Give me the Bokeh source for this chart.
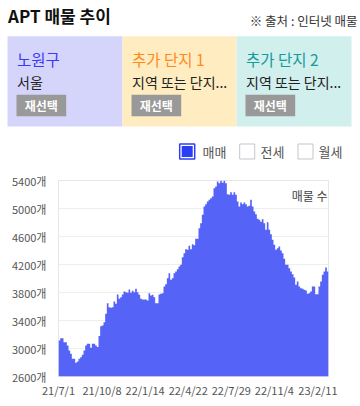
import pandas as pd
from bokeh.plotting import figure
from bokeh.models import Range1d, FixedTicker, PrintfTickFormatter, Label, ColumnDataSource
from bokeh.core.properties import value
from bokeh.embed import file_html
from bokeh.resources import INLINE

FONT = "Noto Sans CJK KR"

# ---------------- data ----------------
title = "APT 매물 추이"
source_note = "※ 출처 : 인터넷 매물"
panel_titles = ["노원구", "추가 단지 1", "추가 단지 2"]
panel_subtitles = ["서울", "지역 또는 단지...", "지역 또는 단지..."]
panel_button = "재선택"
legend_items = ["매매", "전세", "월세"]
legend_checked = [True, False, False]

period_start = "2021-07-01"
period_end = "2023-03-07"
listings = [
    3114, 3148, 3148, 3090, 3090, 3043, 2971, 2924, 2852, 2852,
    2795, 2814, 2852, 2876, 2910, 2971, 3043, 3067, 3067, 3010,
    3067, 3067, 3043, 3020, 3180,
    3318, 3330, 3376, 3495, 3648, 3590, 3581, 3590, 3671, 3638,
    3771, 3710, 3733, 3771, 3814, 3805, 3795, 3843, 3795, 3824,
    3805, 3852, 3805, 3767, 3710, 3700, 3700, 3700, 3686, 3790,
    3757, 3767, 3733, 3648, 3648, 3771, 3781, 3790, 3886, 3919,
    4005, 4076, 3981, 4005, 4076, 4100, 4133, 4171, 4195, 4305,
    4362, 4419, 4410, 4467, 4419, 4490, 4476, 4567, 4567, 4719,
    4790, 4910, 5029, 5062, 5100, 5124, 5148, 5171, 5290, 5314,
    5386, 5362, 5395, 5367, 5395, 5362, 5205, 5195, 5233, 5195,
    5233, 5195, 5100, 5029, 5086, 5062, 5086, 5062, 5029, 5038,
    5124, 5029, 4957, 4919, 4852, 4838, 4810, 4848, 4790, 4695,
    4805, 4695, 4633, 4552, 4481, 4410, 4433, 4457, 4400, 4362,
    4281, 4195, 4195, 4148, 4100, 4062, 4014, 3910, 3957, 3886,
    3862, 3852, 3838, 3829, 3781, 3790, 3814, 3886, 3886, 3776,
    3776, 3886, 3957, 4052, 4100, 4157, 4100,
]
tick_dates = ["2021-07-01", "2021-10-08", "2022-01-14", "2022-04-22",
              "2022-07-29", "2022-11-04", "2023-02-11"]
tick_labels = ["21/7/1", "21/10/8", "22/1/14", "22/4/22", "22/7/29", "22/11/4", "23/2/11"]
y_ticks = [2600, 3000, 3400, 3800, 4200, 4600, 5000, 5400]
y_unit = "개"
series_label = "매물 수"

# ---------------- header ----------------
W = 360
H1 = 168


def Y(y):
    return H1 - y


hdr = figure(width=W, height=H1, x_range=Range1d(0, W), y_range=Range1d(0, H1),
             output_backend="svg", toolbar_location=None, min_border=0)
hdr.axis.visible = False
hdr.grid.visible = False
hdr.outline_line_color = None
hdr.background_fill_color = "white"

hdr.text(x=[7.5], y=[Y(15)], text=[title], text_font=value(FONT), text_font_size="17px",
         text_font_style="bold", text_color="#111111", text_baseline="middle", text_align="left")
hdr.text(x=[357], y=[Y(19.5)], text=[source_note], text_font=value(FONT), text_font_size="12.5px",
         text_color="#333333", text_baseline="middle", text_align="right")

panel_left = [7, 122, 236]
panel_right = [122, 236, 351]
panel_bg = ["#d5d5fb", "#ffecc1", "#d1efed"]
panel_fg = ["#3b3bf5", "#ff8a1c", "#139c9a"]
hdr.quad(left=panel_left, right=panel_right, top=[Y(35.7)] * 3, bottom=[Y(126)] * 3,
         fill_color=panel_bg, line_color=None)
tx = [l + 9.5 for l in panel_left]
hdr.text(x=tx, y=[Y(58.5)] * 3, text=panel_titles, text_font=value(FONT), text_font_size="15.5px",
         text_color=panel_fg, text_baseline="middle", text_align="left")
hdr.text(x=tx, y=[Y(81)] * 3, text=panel_subtitles, text_font=value(FONT), text_font_size="14px",
         text_color="#222222", text_baseline="middle", text_align="left")
bl = [l + 9 for l in panel_left]
hdr.quad(left=bl, right=[b + 49.7 for b in bl], top=[Y(94.3)] * 3, bottom=[Y(115.7)] * 3,
         fill_color="#999999", line_color=None)
hdr.text(x=[b + 24.85 for b in bl], y=[Y(105)] * 3, text=[panel_button] * 3, text_font=value(FONT),
         text_font_size="12px", text_font_style="bold", text_color="white",
         text_baseline="middle", text_align="center")

cb_x = [186.7, 246.7, 305.0]
lab_x = [202, 260, 318]
cb_y = Y(151)
for cx, lx, lab, chk in zip(cb_x, lab_x, legend_items, legend_checked):
    if chk:
        hdr.rect(x=[cx], y=[cb_y], width=15, height=15, fill_color="white",
                 line_color="#2a3ff5", line_width=1.5)
        hdr.rect(x=[cx], y=[cb_y], width=11, height=11, fill_color="#2a3ff5", line_color=None)
    else:
        hdr.rect(x=[cx], y=[cb_y], width=15, height=15, fill_color="white",
                 line_color="#c5c5cc", line_width=1)
    hdr.text(x=[lx], y=[cb_y], text=[lab], text_font=value(FONT), text_font_size="13px",
             text_color="#555555", text_baseline="middle", text_align="left")

# ---------------- chart ----------------
start = pd.Timestamp(period_start)
end = pd.Timestamp(period_end)
edges = pd.date_range(start, end, periods=len(listings) + 1)
src = ColumnDataSource(dict(x=edges, y1=[y_ticks[0]] * len(edges), y2=listings + [listings[-1]]))

p = figure(width=W, height=406 - H1, x_axis_type="datetime",
           x_range=Range1d(start, end), y_range=Range1d(y_ticks[0], y_ticks[-1]),
           output_backend="svg", toolbar_location=None,
           min_border_left=58, min_border_right=32, min_border_top=12, min_border_bottom=30)
p.varea_step(x="x", y1="y1", y2="y2", step_mode="after", source=src, fill_color="#5564f6")

tick_ms = [pd.Timestamp(d).value // 10**6 for d in tick_dates]
p.xaxis.ticker = FixedTicker(ticks=tick_ms)
p.xaxis.major_label_overrides = {t: l for t, l in zip(tick_ms, tick_labels)}
p.yaxis.ticker = FixedTicker(ticks=y_ticks)
p.yaxis.formatter = PrintfTickFormatter(format="%d" + y_unit)

for ax in (p.xaxis, p.yaxis):
    ax.axis_line_color = None
    ax.major_tick_line_color = None
    ax.minor_tick_line_color = None
    ax.major_tick_out = 0
    ax.major_tick_in = 0
    ax.major_label_text_font = FONT
    ax.major_label_text_font_size = "11px"
    ax.major_label_text_color = "#555555"
p.yaxis.major_label_standoff = 12
p.xaxis.major_label_standoff = 5

p.xgrid.grid_line_color = None
p.ygrid.grid_line_color = "#eeeeee"
p.outline_line_color = "#e6e6e6"

p.add_layout(Label(x=end, y=y_ticks[-1], text=series_label, text_align="right",
                   text_baseline="top", x_offset=-1, y_offset=-6, text_font=FONT,
                   text_font_size="12px", text_color="#444444"))

open("out.html", "w").write(file_html([hdr, p], INLINE))
